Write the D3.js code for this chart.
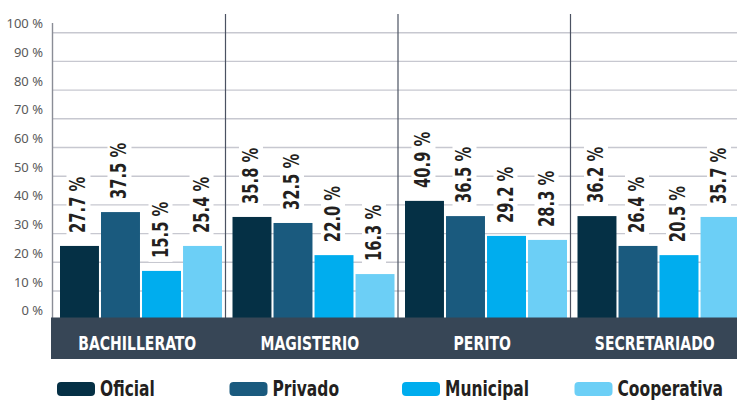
<!DOCTYPE html>
<html>
<head>
<meta charset="utf-8">
<script src="https://cdn.jsdelivr.net/npm/d3@7"></script>
<style>
  body { margin: 0; background: #fff; }
</style>
</head>
<body>
<svg id="chart" width="737" height="400"></svg>
<script>
// categorias y series
const categories = ['BACHILLERATO', 'MAGISTERIO', 'PERITO', 'SECRETARIADO'];
const series = ['Oficial', 'Privado', 'Municipal', 'Cooperativa'];
const colors = ['#053045', '#1a5a7e', '#00adee', '#6ccff6'];

// porcentajes rotulados
const oficial = [27.7, 35.8, 40.9, 36.2];
const privado = [37.5, 32.5, 36.5, 26.4];
const municipal = [15.5, 22.0, 29.2, 20.5];
const cooperativa = [25.4, 16.3, 28.3, 35.7];

// altura de barra tal como se dibuja en la figura
const oficialBar = [25.7, 35.8, 41.4, 36.1];
const privadoBar = [37.5, 33.7, 36.1, 25.7];
const municipalBar = [17.0, 22.5, 29.2, 22.5];
const cooperativaBar = [25.7, 15.9, 27.8, 35.8];

const yTicks = [0, 10, 20, 30, 40, 50, 60, 70, 80, 90, 100];

const labelSets = [oficial, privado, municipal, cooperativa];
const barSets = [oficialBar, privadoBar, municipalBar, cooperativaBar];

const narrow = "'DejaVu Sans Condensed', 'DejaVu Sans', sans-serif";

let svg = d3.select('#chart');

let x0 = d3.scaleBand().domain(categories).range([53, 743]).paddingInner(0);
let x1 = d3.scaleBand().domain(series).range([7, 169]).paddingInner(0.05);
let y = d3.scaleLinear().domain([0, 100]).range([319.7, 32.7]);

// lineas de la grilla
svg.append('g').selectAll('line')
    .data(yTicks.filter(d => d > 0))
    .enter().append('line')
    .attr('x1', 52).attr('x2', 737)
    .attr('y1', d => y(d)).attr('y2', d => y(d))
    .attr('stroke', '#c7c8d0').attr('stroke-width', 1.4);

// etiquetas del eje y
svg.append('g').selectAll('text')
    .data(yTicks)
    .enter().append('text')
    .attr('x', 43)
    .attr('y', d => y(d) - 4.5)
    .attr('text-anchor', 'end')
    .style('font-family', "'Noto Sans', sans-serif")
    .style('font-size', '13px')
    .style('fill', '#595959')
    .text(d => d + ' %');

// eje y
svg.append('line')
    .attr('x1', 52.5).attr('x2', 52.5)
    .attr('y1', 23).attr('y2', 318)
    .attr('stroke', '#8a8d96').attr('stroke-width', 1.4);

// separadores entre categorias
svg.append('g').selectAll('line')
    .data(categories.slice(1))
    .enter().append('line')
    .attr('x1', d => x0(d)).attr('x2', d => x0(d))
    .attr('y1', 14).attr('y2', 318)
    .attr('stroke', '#4b5262').attr('stroke-width', 1.2);

let groups = svg.append('g').selectAll('g')
    .data(categories)
    .enter().append('g')
    .attr('transform', d => 'translate(' + x0(d) + ',0)');

// barras + rotulos
groups.each(function (cat, ci) {
    let g = d3.select(this);
    series.forEach(function (s, si) {
        let v = barSets[si][ci];
        g.append('rect')
            .attr('x', x1(s))
            .attr('y', y(v))
            .attr('width', x1.bandwidth())
            .attr('height', y(0) - y(v))
            .attr('fill', colors[si]);

        // rotulo vertical con fondo blanco
        let cx = x1(s) + x1.bandwidth() / 2 + 6;
        let cy = y(v) - 13;
        let lg = g.append('g').attr('transform', 'translate(' + cx + ',' + cy + ') rotate(-90)');
        let box = lg.append('rect').attr('fill', '#fff');
        let t = lg.append('text')
            .attr('transform', 'scale(0.78,1)')
            .style('font-family', narrow)
            .style('font-weight', 'bold')
            .style('font-size', '21px')
            .style('fill', '#231f20')
            .text(labelSets[si][ci].toFixed(1) + ' %');
        let len = t.node().getComputedTextLength() * 0.78;
        box.attr('x', -4).attr('y', -19).attr('width', len + 8).attr('height', 24);
    });
});

// banda de categorias
svg.append('rect')
    .attr('x', 51).attr('y', 317.5)
    .attr('width', 737 - 51).attr('height', 41.5)
    .attr('fill', '#374656');

svg.append('g').selectAll('text')
    .data(categories)
    .enter().append('text')
    .attr('transform', d => 'translate(' + (x0(d) + x0.bandwidth() / 2 - 2) + ',350) scale(0.82,1)')
    .attr('text-anchor', 'middle')
    .style('font-family', narrow)
    .style('font-weight', 'bold')
    .style('font-size', '19px')
    .style('fill', '#fff')
    .text(d => d);

// leyenda
let legend = svg.append('g').selectAll('g')
    .data(series)
    .enter().append('g')
    .attr('transform', (d, i) => 'translate(' + (x0(categories[i]) + 4) + ',382)');

legend.append('rect')
    .attr('width', 38).attr('height', 14).attr('rx', 4)
    .attr('fill', (d, i) => colors[i]);

legend.append('text')
    .attr('transform', 'translate(43,13.5) scale(0.82,1)')
    .style('font-family', narrow)
    .style('font-weight', 'bold')
    .style('font-size', '21px')
    .style('fill', '#231f20')
    .text(d => d);
</script>
</body>
</html>
